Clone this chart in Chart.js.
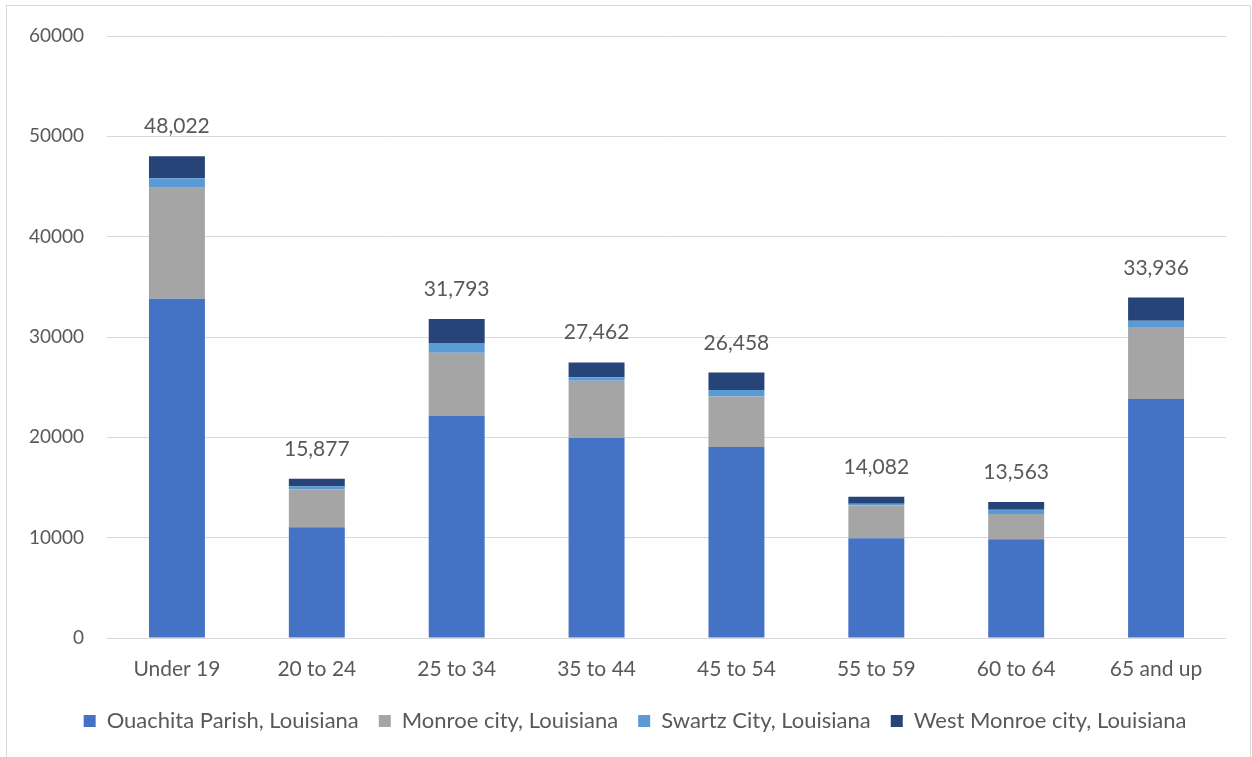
<!DOCTYPE html>
<html>
<head>
<meta charset="utf-8">
<script src="https://cdn.jsdelivr.net/npm/chart.js@4.4.1/dist/chart.umd.min.js"></script>
<style>
    html, body { margin: 0; padding: 0; background: #fff; }
    #frame {
        position: absolute; left: 6px; top: 5px;
        width: 1243px; height: 760px;
        border: 1px solid #d9d9d9;
    }
    #chart { position: absolute; left: 0; top: 0; }
</style>
</head>
<body>
<div id="frame"></div>
<canvas id="chart" width="1252" height="757"></canvas>
<script>
// Age groups
const categories = ['Under 19', '20 to 24', '25 to 34', '35 to 44', '45 to 54', '55 to 59', '60 to 64', '65 and up'];

// Population by place (stacked)
const ouachitaParish = [33800, 11030, 22130, 19930, 19030, 9930, 9830, 23830];
const monroeCity     = [11070, 3800, 6300, 5700, 5040, 3270, 2540, 7170];
const swartzCity     = [960, 270, 970, 370, 660, 170, 400, 630];
const westMonroeCity = [2192, 777, 2393, 1462, 1728, 712, 793, 2306];

const seriesNames = ['Ouachita Parish, Louisiana', 'Monroe city, Louisiana', 'Swartz City, Louisiana', 'West Monroe city, Louisiana'];
const seriesColors = ['#4472C4', '#A5A5A5', '#5B9BD5', '#264478'];

const yTicks = [0, 10000, 20000, 30000, 40000, 50000, 60000];

const textColor = '#595959';
const fontFamily = 'Lato, "Open Sans", sans-serif';

// Draws the stack total above each bar
const totalLabels = {
    id: 'totalLabels',
    afterDatasetsDraw: function (chart) {
        const ctx = chart.ctx;
        const sets = chart.data.datasets;
        const topMeta = chart.getDatasetMeta(sets.length - 1);
        ctx.save();
        ctx.font = '21px ' + fontFamily;
        ctx.fillStyle = textColor;
        ctx.textAlign = 'center';
        ctx.textBaseline = 'alphabetic';
        categories.forEach((c, i) => {
            let total = 0;
            sets.forEach(ds => { total += ds.data[i]; });
            const bar = topMeta.data[i];
            ctx.fillText(total.toLocaleString('en-US'), bar.x, bar.y - 23);
        });
        ctx.restore();
    }
};

// Nudge the legend a bit to the right, like the original
const legendShift = {
    id: 'legendShift',
    afterUpdate: function (chart) {
        if (chart.legend) {
            chart.legend.left += 22;
            chart.legend.right += 22;
        }
    }
};

const datasets = [ouachitaParish, monroeCity, swartzCity, westMonroeCity].map((data, i) => ({
    label: seriesNames[i],
    data: data,
    backgroundColor: seriesColors[i],
    borderWidth: 0,
    barPercentage: 0.4,
    categoryPercentage: 1.0
}));

new Chart(document.getElementById('chart').getContext('2d'), {
    type: 'bar',
    data: { labels: categories, datasets: datasets },
    plugins: [totalLabels, legendShift],
    options: {
        responsive: false,
        animation: false,
        layout: { padding: { left: 0, right: 26, top: 36, bottom: 15 } },
        plugins: {
            tooltip: { enabled: false },
            legend: {
                position: 'bottom',
                labels: {
                    boxWidth: 12,
                    boxHeight: 12,
                    padding: 20,
                    color: textColor,
                    font: { family: fontFamily, size: 22 }
                }
            }
        },
        scales: {
            x: {
                stacked: true,
                grid: { display: false },
                border: { display: false },
                ticks: {
                    color: textColor,
                    padding: 11,
                    font: { family: fontFamily, size: 21 }
                },
                afterFit: function (scale) { scale.height = 52; }
            },
            y: {
                stacked: true,
                min: 0,
                max: 60000,
                afterBuildTicks: function (scale) {
                    scale.ticks = yTicks.map(v => ({ value: v }));
                },
                grid: { color: '#D9D9D9', lineWidth: 1, drawTicks: false },
                border: { display: false },
                ticks: {
                    color: textColor,
                    padding: 23,
                    font: { family: fontFamily, size: 19 },
                    callback: v => String(v)
                },
                afterFit: function (scale) { scale.width = 107; }
            }
        }
    }
});
</script>
</body>
</html>
